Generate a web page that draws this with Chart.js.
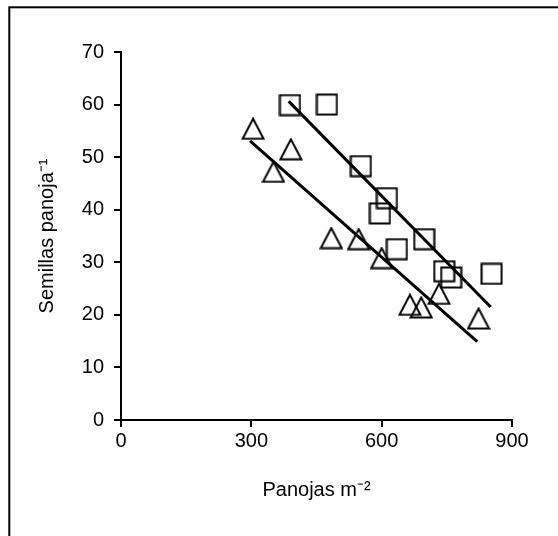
<!DOCTYPE html>
<html>
<head>
<meta charset="utf-8">
<script src="https://cdn.jsdelivr.net/npm/chart.js@4/dist/chart.umd.min.js"></script>
<style>
  html, body { margin: 0; padding: 0; background: #fff; }
  #wrap { width: 558px; height: 536px; position: relative; }
</style>
</head>
<body>
<div id="wrap"><canvas id="myChart"></canvas></div>
<script>
// squares
var squareX = [389, 474, 552, 612, 596, 698, 635, 744, 760, 853];
var squareY = [59.9, 60.0, 48.3, 42.2, 39.3, 34.4, 32.5, 28.3, 27.1, 27.8];
// triangles
var triX = [304, 351, 391, 484, 547, 600, 665, 691, 732, 823];
var triY = [55.4, 47.2, 51.5, 34.6, 34.4, 30.8, 21.9, 21.4, 24.0, 19.3];
// fitted lines (end points)
var upperX = [386, 851];
var upperY = [60.6, 21.5];
var lowerX = [297, 820];
var lowerY = [53.1, 14.9];

var xTicks = [0, 300, 600, 900];
var yTicks = [0, 10, 20, 30, 40, 50, 60, 70];

function pts(xs, ys) {
    return xs.map(function(x, i) { return {x: x, y: ys[i]}; });
}

function squareMarker() {
    var c = document.createElement('canvas');
    c.width = 23; c.height = 23;
    var g = c.getContext('2d');
    g.strokeStyle = '#000';
    g.lineWidth = 2;
    g.strokeRect(1.5, 1.5, 20, 20);
    return c;
}

function triangleMarker() {
    var c = document.createElement('canvas');
    c.width = 24; c.height = 23;
    var g = c.getContext('2d');
    g.strokeStyle = '#000';
    g.lineWidth = 2;
    g.lineJoin = 'miter';
    g.beginPath();
    g.moveTo(12, 1.5);
    g.lineTo(22.5, 21.5);
    g.lineTo(1.5, 21.5);
    g.closePath();
    g.stroke();
    return c;
}

var framePlugin = {
    id: 'frame',
    beforeDraw: function(chart) {
        var ctx = chart.ctx;
        ctx.save();
        ctx.fillStyle = '#fff';
        ctx.fillRect(0, 0, chart.width, chart.height);
        ctx.strokeStyle = '#000';
        ctx.lineWidth = 2;
        ctx.strokeRect(9.3, 7.3, 700, 700);
        ctx.restore();
    }
};

var font = {family: "'Liberation Sans Narrow', 'Arial Narrow', 'Liberation Sans', Arial, sans-serif", size: 20};

var ctx = document.getElementById('myChart');
var myChart = new Chart(ctx, {
    type: 'scatter',
    data: {
        datasets: [{
            label: 'cuadrados',
            data: pts(squareX, squareY),
            pointStyle: squareMarker(),
            order: 2
        }, {
            label: 'triangulos',
            data: pts(triX, triY),
            pointStyle: triangleMarker(),
            order: 2
        }, {
            label: 'ajuste 1',
            type: 'line',
            data: pts(upperX, upperY),
            borderColor: '#000',
            borderWidth: 3,
            pointRadius: 0,
            fill: false,
            order: 1
        }, {
            label: 'ajuste 2',
            type: 'line',
            data: pts(lowerX, lowerY),
            borderColor: '#000',
            borderWidth: 3,
            pointRadius: 0,
            fill: false,
            order: 1
        }]
    },
    options: {
        responsive: true,
        maintainAspectRatio: false,
        animation: false,
        events: [],
        layout: {padding: {left: 0, top: 52, right: 46, bottom: 0}},
        plugins: {legend: {display: false}, tooltip: {enabled: false}},
        scales: {
            x: {
                type: 'linear',
                min: 0, max: 900,
                afterBuildTicks: function(s) { s.ticks = xTicks.map(function(v) { return {value: v}; }); },
                afterFit: function(s) { s.height = 116; },
                border: {display: true, color: '#000', width: 2},
                grid: {display: true, drawOnChartArea: false, drawTicks: true, tickLength: 7, color: '#000', lineWidth: 2},
                ticks: {color: '#000', font: font, padding: 2, maxRotation: 0},
                title: {display: true, text: 'Panojas m⁻²', color: '#000', font: font, padding: {top: 0, bottom: 34}}
            },
            y: {
                type: 'linear',
                min: 0, max: 70,
                afterBuildTicks: function(s) { s.ticks = yTicks.map(function(v) { return {value: v}; }); },
                afterFit: function(s) { s.width = 121; },
                border: {display: true, color: '#000', width: 2},
                grid: {display: true, drawOnChartArea: false, drawTicks: true, tickLength: 7, color: '#000', lineWidth: 2},
                ticks: {color: '#000', font: font, padding: 10},
                title: {display: true, text: 'Semillas panoja⁻¹', color: '#000', font: font, padding: {top: 35, bottom: 0}}
            }
        }
    },
    plugins: [framePlugin]
});
</script>
</body>
</html>
